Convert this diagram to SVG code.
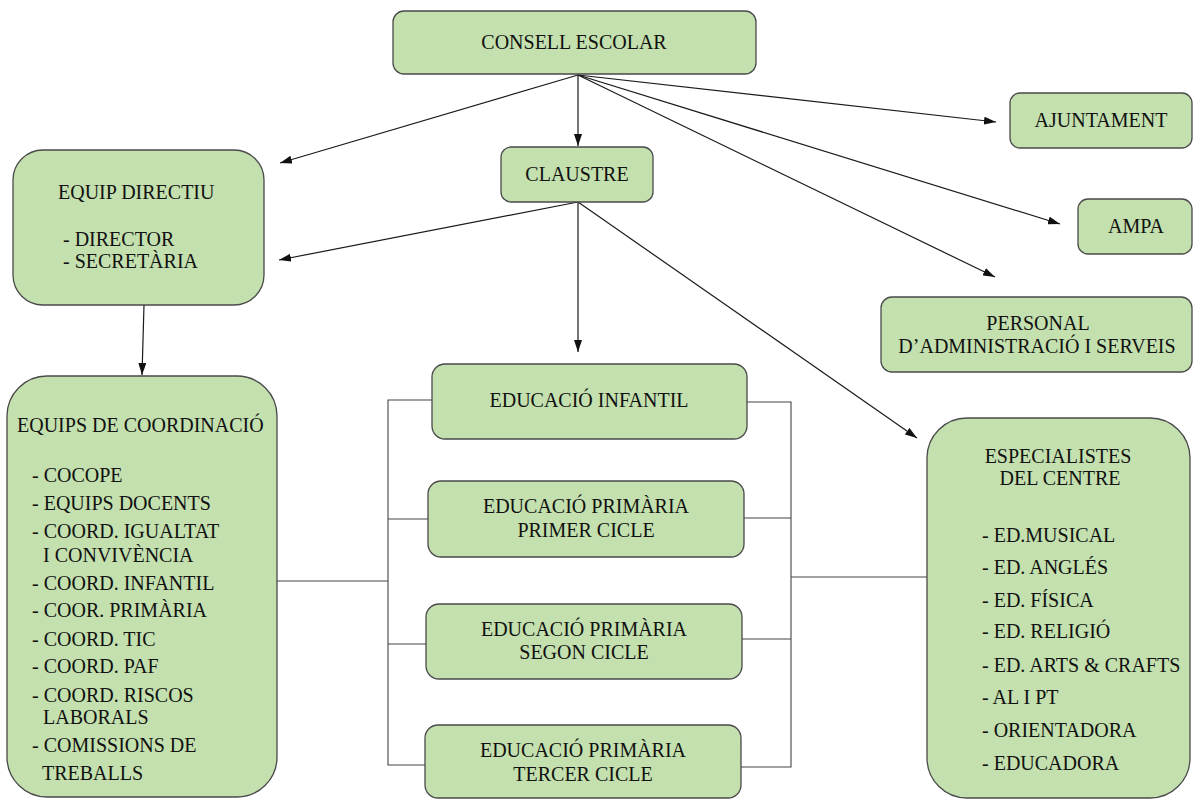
<svg xmlns="http://www.w3.org/2000/svg" width="1193" height="799" viewBox="0 0 1193 799">
<style>
.box{fill:#c3e0ae;stroke:#4a4a4a;stroke-width:1.3}
.t{font-family:"Liberation Serif","Times New Roman",serif;font-size:20px;fill:#111}
.c{text-anchor:middle}
.arr{stroke:#1a1a1a;stroke-width:1.2;fill:none;marker-end:url(#ah)}
.br{stroke:#444;stroke-width:1.1;fill:none}
</style>
<defs>
<marker id="ah" viewBox="0 0 12 8" refX="12" refY="4" markerWidth="12" markerHeight="8" markerUnits="userSpaceOnUse" orient="auto">
<path d="M0,0 L12,4 L0,8 z" fill="#111"/>
</marker>
</defs>
<rect width="1193" height="799" fill="#fff"/>
<g id="connectors">
<line class="arr" x1="578" y1="75" x2="578" y2="146"/>
<line class="arr" x1="578" y1="75" x2="280" y2="163"/>
<line class="arr" x1="578" y1="75" x2="996" y2="122"/>
<line class="arr" x1="578" y1="75" x2="1060" y2="224"/>
<line class="arr" x1="578" y1="75" x2="995" y2="277"/>
<line class="arr" x1="578" y1="202" x2="279" y2="260"/>
<line class="arr" x1="578" y1="202" x2="578" y2="352"/>
<line class="arr" x1="578" y1="202" x2="917" y2="438"/>
<line class="arr" x1="144" y1="305" x2="142" y2="375"/>
<polyline class="br" points="432,400 388,400 388,765 425,765"/>
<line class="br" x1="388" y1="519" x2="428" y2="519"/>
<line class="br" x1="388" y1="644" x2="426" y2="644"/>
<line class="br" x1="277" y1="581" x2="388" y2="581"/>
<polyline class="br" points="747,402 791,402 791,767 741,767"/>
<line class="br" x1="744" y1="518" x2="791" y2="518"/>
<line class="br" x1="742" y1="639" x2="791" y2="639"/>
<line class="br" x1="791" y1="577" x2="927" y2="577"/>
</g>
<g id="consell">
<rect class="box" x="393" y="11" width="363" height="63" rx="11"/>
<text class="t c" x="574" y="49">CONSELL ESCOLAR</text>
</g>
<g id="claustre">
<rect class="box" x="501" y="147" width="152" height="55" rx="10"/>
<text class="t c" x="577" y="181">CLAUSTRE</text>
</g>
<g id="equip-directiu">
<rect class="box" x="13" y="150" width="251" height="155" rx="30"/>
<text class="t" x="58" y="199">EQUIP DIRECTIU</text>
<text class="t" x="63" y="246">- DIRECTOR</text>
<text class="t" x="63" y="268">- SECRETÀRIA</text>
</g>
<g id="equips-coordinacio">
<rect class="box" x="7" y="376" width="270" height="421" rx="40"/>
<text class="t" x="17" y="432">EQUIPS DE COORDINACIÓ</text>
<text class="t" x="32" y="482">- COCOPE</text>
<text class="t" x="32" y="510">- EQUIPS DOCENTS</text>
<text class="t" x="32" y="538">- COORD. IGUALTAT</text>
<text class="t" x="43" y="562">I CONVIVÈNCIA</text>
<text class="t" x="32" y="590">- COORD. INFANTIL</text>
<text class="t" x="32" y="617">- COOR. PRIMÀRIA</text>
<text class="t" x="32" y="646">- COORD. TIC</text>
<text class="t" x="32" y="673">- COORD. PAF</text>
<text class="t" x="32" y="702">- COORD. RISCOS</text>
<text class="t" x="43" y="724">LABORALS</text>
<text class="t" x="32" y="752">- COMISSIONS DE</text>
<text class="t" x="42" y="780">TREBALLS</text>
</g>
<g id="ed-infantil">
<rect class="box" x="432" y="364" width="315" height="75" rx="13"/>
<text class="t c" x="589" y="407">EDUCACIÓ INFANTIL</text>
</g>
<g id="ed-primaria-1">
<rect class="box" x="428" y="481" width="316" height="76" rx="13"/>
<text class="t c" x="586" y="513">EDUCACIÓ PRIMÀRIA</text>
<text class="t c" x="586" y="537">PRIMER CICLE</text>
</g>
<g id="ed-primaria-2">
<rect class="box" x="426" y="604" width="316" height="75" rx="13"/>
<text class="t c" x="584" y="636">EDUCACIÓ PRIMÀRIA</text>
<text class="t c" x="584" y="659">SEGON CICLE</text>
</g>
<g id="ed-primaria-3">
<rect class="box" x="425" y="725" width="316" height="73" rx="13"/>
<text class="t c" x="583" y="757">EDUCACIÓ PRIMÀRIA</text>
<text class="t c" x="583" y="781">TERCER CICLE</text>
</g>
<g id="ajuntament">
<rect class="box" x="1010" y="93" width="182" height="55" rx="10"/>
<text class="t c" x="1101" y="127">AJUNTAMENT</text>
</g>
<g id="ampa">
<rect class="box" x="1078" y="199" width="114" height="55" rx="10"/>
<text class="t c" x="1136" y="233">AMPA</text>
</g>
<g id="personal">
<rect class="box" x="881" y="297" width="311" height="75" rx="11"/>
<text class="t c" x="1038" y="330">PERSONAL</text>
<text class="t c" x="1037" y="353">D’ADMINISTRACIÓ I SERVEIS</text>
</g>
<g id="especialistes">
<rect class="box" x="927" y="418" width="263" height="380" rx="40"/>
<text class="t c" x="1058" y="463">ESPECIALISTES</text>
<text class="t c" x="1060" y="485">DEL CENTRE</text>
<text class="t" x="982" y="542">- ED.MUSICAL</text>
<text class="t" x="982" y="574">- ED. ANGLÉS</text>
<text class="t" x="982" y="607">- ED. FÍSICA</text>
<text class="t" x="982" y="638">- ED. RELIGIÓ</text>
<text class="t" x="982" y="672">- ED. ARTS &amp; CRAFTS</text>
<text class="t" x="982" y="704">- AL I PT</text>
<text class="t" x="982" y="737">- ORIENTADORA</text>
<text class="t" x="982" y="770">- EDUCADORA</text>
</g>
</svg>
